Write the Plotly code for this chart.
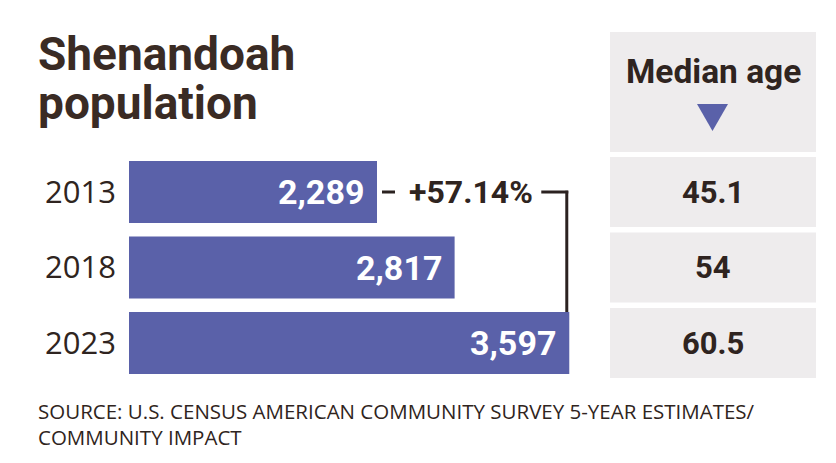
import plotly.graph_objects as go

# ---- data ----
years = ["2013", "2018", "2023"]
population = [2289, 2817, 3597]
pop_labels = ["2,289", "2,817", "3,597"]
median_age = ["45.1", "54", "60.5"]
change_label = "+57.14%"
title_lines = ["Shenandoah", "population"]
age_header = "Median age"
source_lines = ["SOURCE: U.S. CENSUS AMERICAN COMMUNITY SURVEY 5-YEAR ESTIMATES/",
                "COMMUNITY IMPACT"]

# page has an 8px body margin; work in reference pixel coords and shift
OFF = 8
W, H = 820, 447
BAR = "#5a61a9"
TXT = "#2f2420"
CELL = "#eeeced"

def px(x):
    return (x - OFF) / W

def py(y):
    return 1 - (y - OFF) / H

fig = go.Figure()

# population bars
fig.add_trace(go.Bar(
    x=population, y=years, orientation="h",
    marker=dict(color=BAR, line=dict(width=0)),
    width=0.82, xaxis="x", yaxis="y", hoverinfo="skip", showlegend=False,
))

# median age cells
fig.add_trace(go.Bar(
    x=[1] * len(years), y=years, orientation="h",
    marker=dict(color=CELL, line=dict(width=0)),
    width=0.93, xaxis="x2", yaxis="y", hoverinfo="skip", showlegend=False,
))

annotations = []
# value labels inside bars
for i, (v, lab) in enumerate(zip(population, pop_labels)):
    annotations.append(dict(
        x=v, y=i, xref="x", yref="y", text="<b>%s</b>" % lab,
        showarrow=False, xanchor="right", yanchor="middle", xshift=-11,
        font=dict(family="Roboto", size=34, color="white"),
    ))
# median age values
for i, a in enumerate(median_age):
    annotations.append(dict(
        x=0.5, y=i, xref="x2", yref="y", text="<b>%s</b>" % a,
        showarrow=False, xanchor="center", yanchor="middle",
        font=dict(family="Roboto", size=31, color=TXT),
    ))
# change label
annotations.append(dict(
    x=(population[0] + population[-1]) / 2, y=0, xref="x", yref="y",
    text="<b>%s</b>" % change_label, showarrow=False, xanchor="center",
    yanchor="middle", xshift=-2,
    font=dict(family="Roboto", size=32, color=TXT),
))
# title
annotations.append(dict(x=px(36), y=py(54), xref="paper", yref="paper",
                        text="<b>%s</b>" % title_lines[0], showarrow=False,
                        xanchor="left", yanchor="middle",
                        font=dict(family="Roboto", size=46, color="#3a2b24")))
annotations.append(dict(x=px(36), y=py(103), xref="paper", yref="paper",
                        text="<b>%s</b>" % title_lines[1], showarrow=False,
                        xanchor="left", yanchor="middle",
                        font=dict(family="Roboto", size=46, color="#3a2b24")))
# median age header
annotations.append(dict(x=px(713), y=py(72), xref="paper", yref="paper",
                        text="<b>%s</b>" % age_header, showarrow=False,
                        xanchor="center", yanchor="middle",
                        font=dict(family="Roboto", size=33.5, color=TXT)))
# source
for i, s in enumerate(source_lines):
    annotations.append(dict(x=px(36), y=py(411 + 26 * i), xref="paper", yref="paper",
                            text=s, showarrow=False, xanchor="left", yanchor="middle",
                            font=dict(family="Open Sans", size=20.5, color=TXT)))

shapes = []
# header cell
shapes.append(dict(type="rect", xref="paper", yref="paper",
                   x0=px(610), x1=px(816), y0=py(152), y1=py(32),
                   fillcolor=CELL, line=dict(width=0), layer="below"))
# triangle
shapes.append(dict(type="path", xref="paper", yref="paper",
                   path="M %f,%f L %f,%f L %f,%f Z" % (px(697), py(104), px(728), py(104), px(712.5), py(131)),
                   fillcolor=BAR, line=dict(width=0)))
LC = dict(color="#2b2220", width=3)
# bracket: left dash
shapes.append(dict(type="line", xref="x", yref="y", xsizemode="pixel",
                   xanchor=population[0], x0=5, x1=18, y0=0, y1=0, line=LC))
# right horizontal
shapes.append(dict(type="line", xref="x", yref="y", xsizemode="pixel",
                   xanchor=population[-1], x0=-28, x1=-1, y0=0, y1=0, line=LC))
# vertical
shapes.append(dict(type="line", xref="x", yref="y", xsizemode="pixel",
                   xanchor=population[-1], x0=-2.5, x1=-2.5, y0=-0.015, y1=2 - 0.41, line=LC))

# plot area rows
top_px, bot_px = 154.25, 380.75

fig.update_layout(
    width=W, height=H, margin=dict(l=0, r=0, t=0, b=0),
    paper_bgcolor="white", plot_bgcolor="rgba(0,0,0,0)",
    xaxis=dict(domain=[px(129), px(600)], range=[602, 3806], visible=False, fixedrange=True),
    xaxis2=dict(domain=[px(610), px(816)], range=[0, 1], visible=False, fixedrange=True),
    yaxis=dict(domain=[py(bot_px), py(top_px)], type="category", range=[2.5, -0.5],
               showgrid=False, zeroline=False, showline=False, ticks="",
               ticklabelstandoff=12,
               tickfont=dict(family="Open Sans", size=31, color=TXT)),
    annotations=annotations, shapes=shapes, barmode="overlay",
)

fig.write_html("out.html")
